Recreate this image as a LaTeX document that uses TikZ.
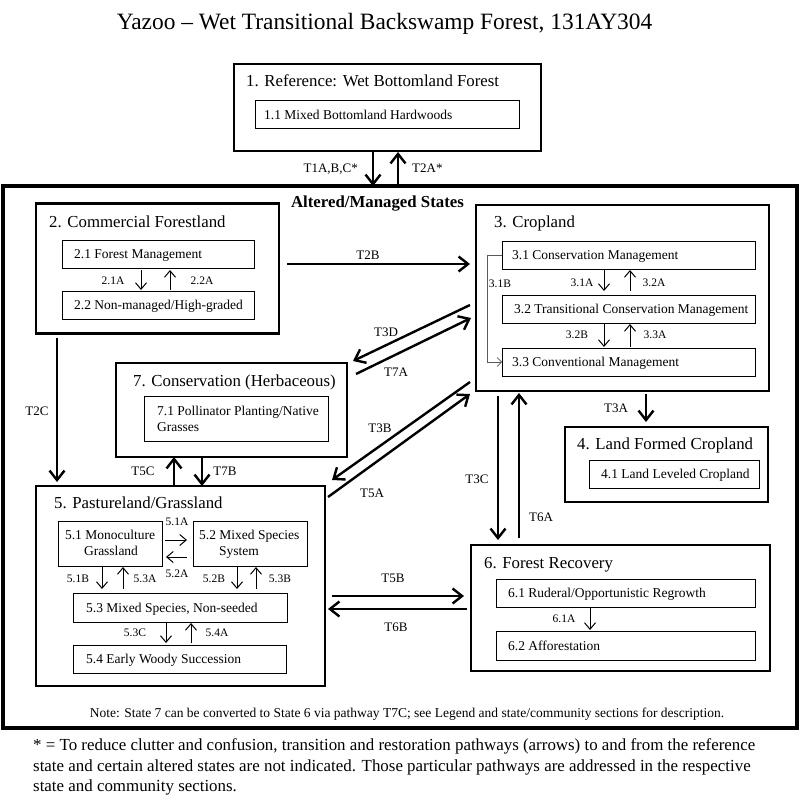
\documentclass[tikz,border=0pt]{standalone}
\usepackage{fontspec}
\setmainfont{Liberation Serif}
\usetikzlibrary{arrows.meta,calc}
\begin{document}
\begin{tikzpicture}[x=1pt,y=-1pt,
  outerbox/.style={draw, line width=4pt, inner sep=0pt, outer sep=0pt},
  statebox/.style={draw, line width=2.7pt, inner sep=0pt, outer sep=0pt},
  commbox/.style={draw, line width=1pt, inner sep=0pt, outer sep=0pt},
  bigarr/.style={line width=2.4pt, -{Straight Barb[length=9.5pt,width=15pt]}},
  smallarr/.style={line width=1pt, -{Straight Barb[length=6.5pt,width=11pt]}},
  thinarr/.style={line width=0.6pt, draw=black!65, -{Straight Barb[length=4.5pt,width=9pt]}},
  maintitle/.style={anchor=base, inner sep=0pt, font=\fontsize{23.4}{28}\selectfont},
  sttl/.style={anchor=base west, inner sep=0pt, font=\fontsize{16.8}{20}\selectfont},
  ctxt/.style={anchor=base west, inner sep=0pt, font=\fontsize{13.5}{16}\selectfont},
  tlbl/.style={inner sep=0pt, font=\fontsize{13}{15}\selectfont},
  slbl/.style={inner sep=0pt, font=\fontsize{11.5}{13}\selectfont},
  foot/.style={anchor=base west, inner sep=0pt, font=\fontsize{16.9}{20}\selectfont}
]
\useasboundingbox[fill=white] (0,0) rectangle (800,805);

% title
\node[maintitle] (title) at (384.5,30) {Yazoo -- Wet Transitional Backswamp Forest, 131AY304};

% state 1
\node[statebox, minimum width=307pt, minimum height=87pt] (s1) at (387.5,107.5) {};
\node[sttl] (s1t) at (246,86.6) {1. Reference: Wet Bottomland Forest};
\node[commbox, minimum width=264pt, minimum height=28pt] (c11) at (387,115) {};
\node[ctxt] (c11t) at (264,119.5) {1.1 Mixed Bottomland Hardwoods};

% altered states frame
\node[outerbox, minimum width=794pt, minimum height=542pt] (alt) at (400,457) {};
\node[anchor=base, inner sep=0pt, font=\fontsize{16.8}{20}\selectfont\bfseries] (altt) at (377.5,207.6) {Altered/Managed States};

% state 2
\node[statebox, minimum width=243pt, minimum height=130pt] (s2) at (157.5,268.5) {};
\node[sttl] (s2t) at (49,227.6) {2. Commercial Forestland};
\node[commbox, minimum width=192pt, minimum height=28pt] (c21) at (158,254) {};
\node[ctxt] (c21t) at (74,258.5) {2.1 Forest Management};
\node[commbox, minimum width=192pt, minimum height=28pt] (c22) at (158,305) {};
\node[ctxt] (c22t) at (74,309.5) {2.2 Non-managed/High-graded};

% state 3
\node[statebox, minimum width=293pt, minimum height=186pt] (s3) at (622.5,298) {};
\node[sttl] (s3t) at (494,227.6) {3. Cropland};
\node[commbox, minimum width=253pt, minimum height=28pt] (c31) at (628.5,255) {};
\node[ctxt] (c31t) at (512,259.5) {3.1 Conservation Management};
\node[commbox, minimum width=253pt, minimum height=28pt] (c32) at (628.5,309) {};
\node[ctxt] (c32t) at (514,313.5) {3.2 Transitional Conservation Management};
\node[commbox, minimum width=253pt, minimum height=28pt] (c33) at (628.5,362) {};
\node[ctxt] (c33t) at (512,366.5) {3.3 Conventional Management};

% state 4
\node[statebox, minimum width=203pt, minimum height=75pt] (s4) at (666.5,464.5) {};
\node[sttl] (s4t) at (577,449.6) {4. Land Formed Cropland};
\node[commbox, minimum width=170pt, minimum height=28pt] (c41) at (674,474) {};
\node[ctxt] (c41t) at (601,478.5) {4.1 Land Leveled Cropland};

% state 7
\node[statebox, minimum width=231pt, minimum height=94pt] (s7) at (231.5,410) {};
\node[sttl] (s7t) at (133,386.6) {7. Conservation (Herbaceous)};
\node[commbox, minimum width=184pt, minimum height=45pt] (c71) at (236,418.5) {};
\node[ctxt] (c71t) at (157,415.5) {7.1 Pollinator Planting/Native};
\node[ctxt] (c71u) at (157,431.5) {Grasses};

% state 5
\node[statebox, minimum width=289pt, minimum height=200pt] (s5) at (180.5,586) {};
\node[sttl] (s5t) at (54,508.6) {5. Pastureland/Grassland};
\node[commbox, minimum width=104pt, minimum height=45pt] (c51) at (110,543.5) {};
\node[ctxt, anchor=base] (c51t) at (110,539.5) {5.1 Monoculture};
\node[ctxt, anchor=base] (c51u) at (111,555.5) {Grassland};
\node[commbox, minimum width=114pt, minimum height=45pt] (c52) at (250,543.5) {};
\node[ctxt] (c52t) at (199,539.5) {5.2 Mixed Species};
\node[ctxt] (c52u) at (219,555.5) {System};
\node[commbox, minimum width=214pt, minimum height=29pt] (c53) at (180,607.5) {};
\node[ctxt] (c53t) at (86,612) {5.3 Mixed Species, Non-seeded};
\node[commbox, minimum width=213pt, minimum height=28pt] (c54) at (179.5,659) {};
\node[ctxt] (c54t) at (86,663.5) {5.4 Early Woody Succession};

% state 6
\node[statebox, minimum width=299pt, minimum height=126pt] (s6) at (620.5,608) {};
\node[sttl] (s6t) at (484,568.6) {6. Forest Recovery};
\node[commbox, minimum width=259pt, minimum height=28pt] (c61) at (625.5,593) {};
\node[ctxt] (c61t) at (508,597.5) {6.1 Ruderal/Opportunistic Regrowth};
\node[commbox, minimum width=259pt, minimum height=29pt] (c62) at (625.5,645.5) {};
\node[ctxt] (c62t) at (508,650) {6.2 Afforestation};

% note and footnote
\node[anchor=base, inner sep=0pt, font=\fontsize{13.5}{16}\selectfont] (note) at (407,717.5) {Note: State 7 can be converted to State 6 via pathway T7C; see Legend and state/community sections for description.};
\node[foot] (f1) at (33,750.6) {* = To reduce clutter and confusion, transition and restoration pathways (arrows) to and from the reference};
\node[foot] (f2) at (33,771) {state and certain altered states are not indicated. Those particular pathways are addressed in the respective};
\node[foot] (f3) at (33,791.5) {state and community sections.};

% ---- big transitions ----
\draw[bigarr] ($(s1.south west)+(139,0)$) -- ($(alt.north west)+(370,0)$);
\draw[bigarr] ($(alt.north west)+(395,-2)$) -- ($(s1.south west)+(164,1)$);
\node[tlbl, anchor=base east] (lT1) at (358,172.3) {T1A,B,C*};
\node[tlbl, anchor=base west] (lT2A) at (412,173) {T2A*};

\draw[bigarr] ($(s2.north east)+(8,60.5)$) -- ($(s3.north west)+(-6,59)$);
\node[tlbl] (lT2B) at (368,255) {T2B};

\draw[bigarr] ($(s2.south west)+(21,4)$) -- ($(s5.north west)+(21,-4)$);
\node[tlbl] (lT2C) at (37,411) {T2C};

\draw[bigarr] ($(s3.north west)+(-6,100)$) -- ($(s7.north east)+(6,-2)$);
\node[tlbl] (lT3D) at (386,332) {T3D};
\draw[bigarr] ($(s7.north east)+(9,11)$) -- ($(s3.north west)+(-5,113)$);
\node[tlbl] (lT7A) at (396,372) {T7A};

\draw[bigarr] ($(s3.south west)+(-6,-9)$) -- ($(s5.north east)+(7,-6)$);
\node[tlbl] (lT3B) at (380,428) {T3B};
\draw[bigarr] ($(s5.north east)+(3,11)$) -- ($(s3.south west)+(-6,3)$);
\node[tlbl] (lT5A) at (372,493) {T5A};

\draw[bigarr] ($(s5.north west)+(138,0)$) -- ($(s7.south west)+(58,0)$);
\node[tlbl] (lT5C) at (143,471) {T5C};
\draw[bigarr] ($(s7.south west)+(86,0)$) -- ($(s5.north west)+(166,0)$);
\node[tlbl] (lT7B) at (225,471) {T7B};

\draw[bigarr] ($(s3.south west)+(170,3)$) -- ($(s4.north west)+(81,-5)$);
\node[tlbl] (lT3A) at (616,408) {T3A};

\draw[bigarr] ($(s3.south west)+(22,5)$) -- ($(s6.north west)+(27,-5)$);
\node[tlbl] (lT3C) at (477,479) {T3C};
\draw[bigarr] ($(s6.north west)+(48,-7)$) -- ($(s3.south west)+(43,2)$);
\node[tlbl] (lT6A) at (541,517) {T6A};

\draw[bigarr] ($(s5.east)+(7,10)$) -- ($(s6.west)+(-7,-12)$);
\node[tlbl] (lT5B) at (393,578) {T5B};
\draw[bigarr] ($(s6.west)+(-4,1)$) -- ($(s5.east)+(3,23)$);
\node[tlbl] (lT6B) at (396,627) {T6B};

% ---- community pathways ----
\draw[smallarr] ($(c21.south west)+(79,2)$) -- ($(c22.north west)+(79,-1)$);
\draw[smallarr] ($(c22.north west)+(108,-1)$) -- ($(c21.south west)+(108,2)$);
\node[slbl] (l21A) at (113,281) {2.1A};
\node[slbl] (l22A) at (202,281) {2.2A};

\draw[smallarr] ($(c31.south west)+(102,1)$) -- ($(c32.north west)+(102,-4)$);
\draw[smallarr] ($(c32.north west)+(128,-4)$) -- ($(c31.south west)+(128,1)$);
\node[slbl] (l31A) at (582,283) {3.1A};
\node[slbl] (l32A) at (654,283) {3.2A};
\draw[smallarr] ($(c32.south west)+(102,1)$) -- ($(c33.north west)+(102,-1)$);
\draw[smallarr] ($(c33.north west)+(128,-1)$) -- ($(c32.south west)+(128,1)$);
\node[slbl] (l32B) at (577,335) {3.2B};
\node[slbl] (l33A) at (655,335) {3.3A};
\draw[thinarr] (c31.west) -- ++(-15,0) |- (c33.west);
\node[slbl] (l31B) at (500,284) {3.1B};

\draw[smallarr] ($(c51.east)+(3,-3.5)$) -- ($(c52.west)+(-6,-3.5)$);
\draw[smallarr] ($(c52.west)+(-6,13.5)$) -- ($(c51.east)+(4,13.5)$);
\node[slbl] (l51A) at (177,522) {5.1A};
\node[slbl] (l52A) at (177,574) {5.2A};
\draw[smallarr] ($(c51.south west)+(44,1)$) -- ($(c53.north west)+(29,-4)$);
\draw[smallarr] ($(c53.north west)+(50,-4)$) -- ($(c51.south west)+(65,1)$);
\node[slbl] (l51B) at (78,579) {5.1B};
\node[slbl] (l53A) at (145,579) {5.3A};
\draw[smallarr] ($(c52.south west)+(44,1)$) -- ($(c53.north west)+(164,-4)$);
\draw[smallarr] ($(c53.north west)+(183,-4)$) -- ($(c52.south west)+(63,1)$);
\node[slbl] (l52B) at (214,579) {5.2B};
\node[slbl] (l53B) at (280,579) {5.3B};
\draw[smallarr] ($(c53.south west)+(93,1)$) -- ($(c54.north west)+(93,-2)$);
\draw[smallarr] ($(c54.north west)+(118,-2)$) -- ($(c53.south west)+(118,1)$);
\node[slbl] (l53C) at (135,633) {5.3C};
\node[slbl] (l54A) at (217,633) {5.4A};

\draw[smallarr] ($(c61.south west)+(94,1)$) -- ($(c62.north west)+(94,-1)$);
\node[slbl] (l61A) at (564,619) {6.1A};
\end{tikzpicture}
\end{document}
